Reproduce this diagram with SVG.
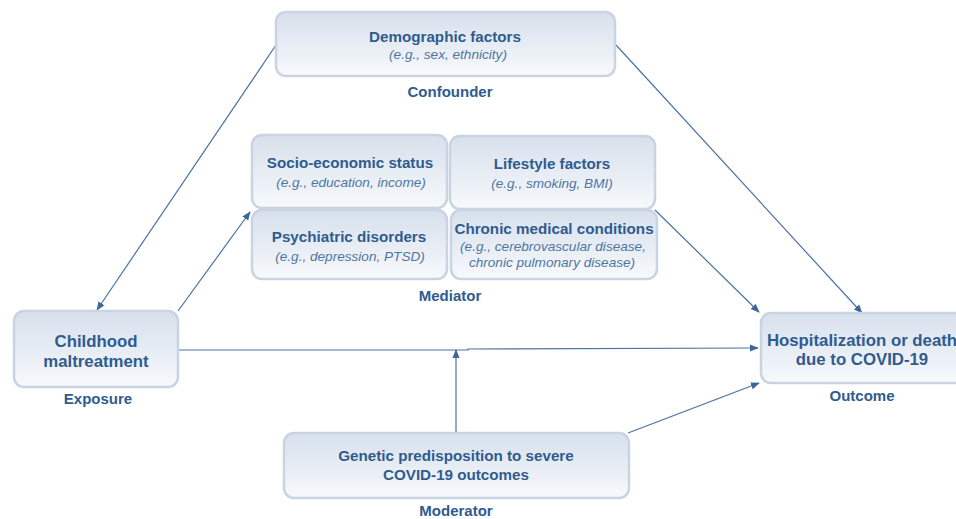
<svg xmlns="http://www.w3.org/2000/svg" width="956" height="519" viewBox="0 0 956 519">
<defs>
<linearGradient id="g" x1="0" y1="0" x2="0" y2="1">
<stop offset="0" stop-color="#d7e0ec"/>
<stop offset="1" stop-color="#f7f9fc"/>
</linearGradient>
<marker id="ah" viewBox="0 0 10 10" refX="9" refY="5" markerWidth="9" markerHeight="9" markerUnits="userSpaceOnUse" orient="auto">
<path d="M0,1 L10,5 L0,9 Z" fill="#3d6699"/>
</marker>
<style>
.box{fill:url(#g);stroke:#c9d4e2;stroke-width:2.5}
.t{font-family:"Liberation Sans",Arial,sans-serif;font-weight:bold;font-size:15.2px;fill:#2f5b8f;text-anchor:middle}
.big{font-size:16.8px}
.i{font-family:"Liberation Sans",Arial,sans-serif;font-style:italic;font-size:13.6px;fill:#4f76a3;text-anchor:middle}
.lbl{font-family:"Liberation Sans",Arial,sans-serif;font-weight:bold;font-size:15px;fill:#2f5b8f;text-anchor:middle}
.c{stroke:#4a72a3;stroke-width:1.2;fill:none;marker-end:url(#ah)}
</style>
</defs>
<rect width="956" height="519" fill="#ffffff"/>
<g id="connectors">
<line class="c" x1="276" y1="45" x2="97" y2="310"/>
<line class="c" x1="616" y1="45" x2="862" y2="313"/>
<line class="c" x1="178" y1="311" x2="250" y2="212"/>
<line class="c" x1="655" y1="210" x2="759" y2="312"/>
<polyline class="c" points="178,350 468,350 468,349 758,348"/>
<line class="c" x1="456" y1="432" x2="456" y2="350"/>
<line class="c" x1="628" y1="433" x2="759" y2="383"/>
</g>
<g id="demographic">
<rect class="box" x="276" y="12" width="339" height="64" rx="10"/>
<text class="t" x="445" y="42">Demographic factors</text>
<text class="i" x="448" y="59">(e.g., sex, ethnicity)</text>
<text class="lbl" x="450" y="97">Confounder</text>
</g>
<g id="ses">
<rect class="box" x="252" y="135" width="195" height="73" rx="10"/>
<text class="t" x="350" y="168">Socio-economic status</text>
<text class="i" x="351" y="187">(e.g., education, income)</text>
</g>
<g id="lifestyle">
<rect class="box" x="450" y="136" width="205" height="73" rx="10"/>
<text class="t" x="552" y="169">Lifestyle factors</text>
<text class="i" x="552" y="188">(e.g., smoking, BMI)</text>
</g>
<g id="psychiatric">
<rect class="box" x="252" y="210" width="195" height="69" rx="10"/>
<text class="t" x="349" y="242">Psychiatric disorders</text>
<text class="i" x="350" y="261">(e.g., depression, PTSD)</text>
</g>
<g id="chronic">
<rect class="box" x="451" y="210" width="206" height="69" rx="10"/>
<text class="t" x="554" y="234">Chronic medical conditions</text>
<text class="i" x="553" y="251">(e.g., cerebrovascular disease,</text>
<text class="i" x="552" y="267">chronic pulmonary disease)</text>
<text class="lbl" x="450" y="301">Mediator</text>
</g>
<g id="exposure">
<rect class="box" x="14" y="311" width="164" height="76" rx="10"/>
<text class="t big" x="96" y="347">Childhood</text>
<text class="t big" x="96" y="367">maltreatment</text>
<text class="lbl" x="98" y="404">Exposure</text>
</g>
<g id="outcome">
<rect class="box" x="761" y="313" width="210" height="70" rx="10"/>
<text class="t big" x="862" y="346">Hospitalization or death</text>
<text class="t big" x="862" y="365">due to COVID-19</text>
<text class="lbl" x="862" y="401">Outcome</text>
</g>
<g id="moderator">
<rect class="box" x="284" y="433" width="345" height="65" rx="10"/>
<text class="t" x="456" y="461">Genetic predisposition to severe</text>
<text class="t" x="456" y="480">COVID-19 outcomes</text>
<text class="lbl" x="456" y="516">Moderator</text>
</g>
</svg>
